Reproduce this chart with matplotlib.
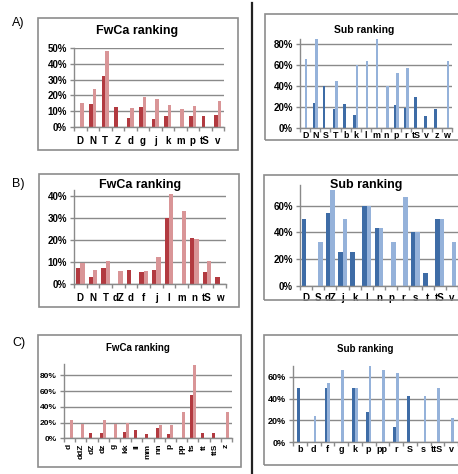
import matplotlib
matplotlib.use("Agg")
import matplotlib.pyplot as plt
from matplotlib.patches import Rectangle
from matplotlib.lines import Line2D
from matplotlib.ticker import FixedLocator, FuncFormatter

plt.rcParams['font.family'] = ['Liberation Sans', 'DejaVu Sans']

W, H = 458, 474

# ---- data (percent) ----
A_fw_cats = ['D', 'N', 'T', 'Z', 'd', 'g', 'j', 'k', 'm', 'p', 'tS', 'v']
A_fw_dark = [0, 14.5, 32, 12.5, 5.5, 12.5, 5, 7, 0, 7, 7, 7.5]
A_fw_light = [15, 24, 48, 0, 12, 19, 17.5, 14, 11.5, 13, 0, 16.5]

A_sub_cats = ['D', 'N', 'S', 'T', 'b', 'k', 'l', 'm', 'n', 'p', 'r', 'tS', 'v', 'z', 'w']
A_sub_dark = [0, 24, 40, 18, 22.5, 12, 0, 0, 0, 21.5, 19, 29, 11, 18, 0]
A_sub_light = [65.5, 85, 0, 44.5, 0, 60, 64, 85, 40, 52.5, 57, 0, 0, 0, 64]

B_fw_cats = ['D', 'N', 'T', 'dZ', 'd', 'f', 'j', 'l', 'm', 'n', 'tS', 'w']
B_fw_dark = [7.5, 3, 7.5, 0, 6.5, 5.5, 6.5, 30, 0, 21, 5.5, 3]
B_fw_light = [9.5, 6.5, 10.5, 6, 0, 6, 12.5, 41, 33, 20.5, 10.5, 0]

B_sub_cats = ['D', 'S', 'dZ', 'j', 'k', 'l', 'n', 'p', 'r', 's', 't', 'tS', 'v']
B_sub_dark = [50, 0, 54.5, 25.5, 25.5, 60, 43, 0, 0, 40, 10, 50, 0]
B_sub_light = [0, 33, 72, 50, 0, 60, 43, 33, 66.5, 40, 0, 50, 33]

C_fw_cats = ['d', 'ddZ', 'dZ', 'dz', 'g', 'kk', 'll', 'mm', 'nn', 'p', 'pp', 'ts', 'tt', 'ttS', 'z']
C_fw_dark = [0, 0, 6.5, 7, 0, 8.5, 10, 5.5, 13, 5.5, 0, 55.5, 7, 7, 0]
C_fw_light = [23.5, 18, 0, 23.5, 18, 19.5, 0, 0, 17.5, 17, 34, 92.5, 0, 0, 34]

C_sub_cats = ['b', 'd', 'f', 'g', 'k', 'p', 'pp', 'r', 'S', 's', 'ttS', 'v']
C_sub_dark = [50, 0, 50, 0, 50, 27.5, 0, 14, 42.5, 0, 0, 0]
C_sub_light = [0, 24, 54, 66, 50, 69.5, 66, 63, 0, 42.5, 49.5, 22]

RED_D, RED_L = '#B23A40', '#D99597'
BLU_D, BLU_L = '#3E6CA6', '#95B2DA'
GRID = '#8a8a8a'

fig = plt.figure(figsize=(W / 100, H / 100), dpi=100)


def frac(x0, y0, x1, y1):
    return [x0 / W, 1 - y1 / H, (x1 - x0) / W, (y1 - y0) / H]


def box(x0, y0, x1, y1):
    l, b, w, h = frac(x0, y0, x1, y1)
    fig.add_artist(Rectangle((l, b), w, h, transform=fig.transFigure,
                             fill=False, ec='#8c8c8c', lw=1.2))


def panel(rect, cats, dark, light, ymax, yticks, bw, cd, cl, fs=7, xfs=None, rot=False, xpad=5):
    ax = fig.add_axes(frac(*rect))
    n = len(cats)
    xs = list(range(n))
    ax.set_axisbelow(True)
    ax.bar([x - bw / 2 for x in xs], [v / 100 for v in dark], bw, color=cd, zorder=2)
    ax.bar([x + bw / 2 for x in xs], [v / 100 for v in light], bw, color=cl, zorder=2)
    ax.set_xlim(-0.5, n - 0.5)
    ax.set_ylim(0, ymax / 100)
    ax.yaxis.set_major_locator(FixedLocator([t / 100 for t in yticks]))
    ax.yaxis.set_major_formatter(FuncFormatter(lambda v, p: f"{v * 100:.0f}%"))
    ax.set_xticks(xs)
    ax.set_xticklabels(cats, rotation=90 if rot else 0, fontweight='bold',
                       fontsize=xfs if xfs else fs)
    ax.set_xticks([x - 0.5 for x in range(n + 1)], minor=True)
    ax.tick_params(axis='x', which='major', length=0, pad=xpad)
    ax.tick_params(axis='x', which='minor', length=3, color=GRID, width=1)
    ax.tick_params(axis='y', length=3, color=GRID, width=1, pad=2)
    for lab in ax.get_yticklabels():
        lab.set_fontweight('bold')
        lab.set_fontsize(fs)
    ax.yaxis.grid(True, color=GRID, lw=1)
    for s in ['top', 'right']:
        ax.spines[s].set_visible(False)
    for s in ['left', 'bottom']:
        ax.spines[s].set_color(GRID)
        ax.spines[s].set_linewidth(1)
    ax.patch.set_alpha(0)
    return ax


def title(x, y, s, fs):
    fig.text(x / W, 1 - y / H, s, ha='center', va='center', fontsize=fs, fontweight='bold')


# boxes
box(38, 18, 238, 150)
box(265, 14, 462, 140)
box(39, 174, 239, 307)
box(264, 175, 462, 300)
box(38, 335, 241, 467)
box(264, 335, 462, 465)

# panels
panel((74, 48, 224, 127), A_fw_cats, A_fw_dark, A_fw_light, 50, [0, 10, 20, 30, 40, 50], 0.27, RED_D, RED_L, xpad=6.5)
panel((300, 38.5, 452, 128), A_sub_cats, A_sub_dark, A_sub_light, 85, [0, 20, 40, 60, 80], 0.24, BLU_D, BLU_L, xfs=6.4, xpad=2.5)
panel((74, 189.5, 226, 284), B_fw_cats, B_fw_dark, B_fw_light, 43, [0, 10, 20, 30, 40], 0.34, RED_D, RED_L, xpad=6.5)
panel((300, 185.5, 458, 286), B_sub_cats, B_sub_dark, B_sub_light, 75, [0, 20, 40, 60], 0.36, BLU_D, BLU_L, xpad=5)
panel((64, 364.3, 232, 438.3), C_fw_cats, C_fw_dark, C_fw_light, 94, [0, 20, 40, 60, 80], 0.27, RED_D, RED_L, fs=6, rot=True, xpad=4)
panel((293, 365.8, 458, 442.3), C_sub_cats, C_sub_dark, C_sub_light, 70, [0, 20, 40, 60], 0.2, BLU_D, BLU_L, fs=6.5, xpad=2)

# titles
title(137, 31, 'FwCa ranking', 9)
title(364, 30, 'Sub ranking', 7.5)
title(140, 185, 'FwCa ranking', 9)
title(366, 185, 'Sub ranking', 9)
title(138, 348, 'FwCa ranking', 7)
title(365, 349, 'Sub ranking', 7)

# section labels
for lab, y in [('A)', 23), ('B)', 184), ('C)', 343)]:
    fig.text(12 / W, 1 - y / H, lab, ha='left', va='center', fontsize=9)

# divider
fig.add_artist(Line2D([252 / W, 252 / W], [0, 1 - 3 / H], transform=fig.transFigure,
                      color='#222222', lw=1.6))

fig.savefig('out.png', dpi=100)
